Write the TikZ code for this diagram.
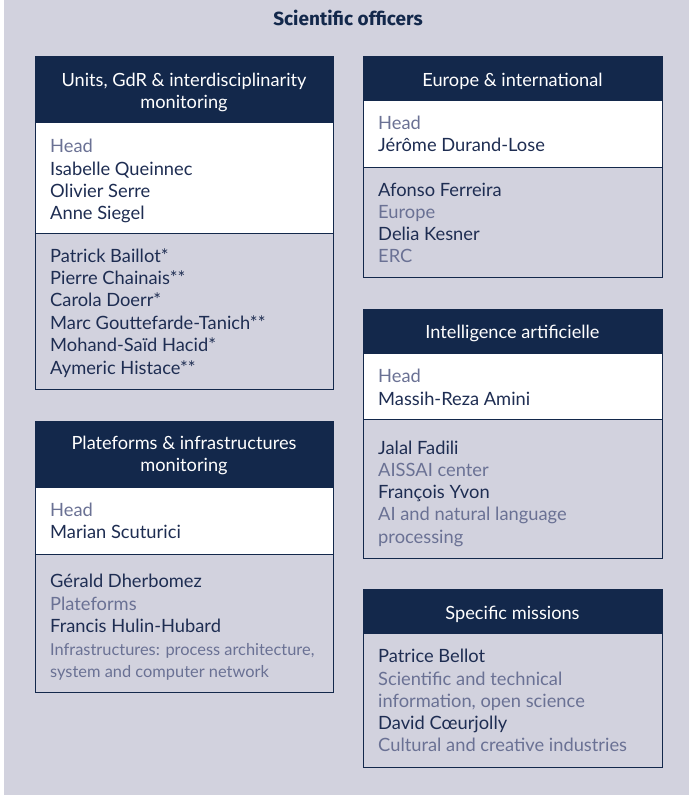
\documentclass[tikz,border=0pt]{standalone}
\usepackage{fontspec}
\setmainfont{Lato}
\newfontfamily\titlefont{Fira Sans}
\definecolor{panel}{HTML}{D2D2DE}
\definecolor{navy}{HTML}{13284B}
\definecolor{namec}{HTML}{1E2D52}
\definecolor{rolec}{HTML}{6A7194}
\begin{document}
\begin{tikzpicture}[x=1pt,y=-1pt,
  sec/.style={rectangle, draw=navy, line width=1.4pt, inner sep=0pt, anchor=north west},
  hdr/.style={sec, fill=navy},
  wsec/.style={sec, fill=white},
  gsec/.style={sec, fill=panel},
  txt/.style={inner sep=0pt, anchor=base west, font=\fontsize{18.3}{22}\selectfont},
  nm/.style={txt, text=namec},
  rl/.style={txt, text=rolec},
  rlsmall/.style={rl, font=\fontsize{16.4}{20}\selectfont},
  ht/.style={inner sep=0pt, anchor=base, font=\fontsize{18.2}{22}\selectfont, text=white},
]
\useasboundingbox (0,0) rectangle (689,795);
\fill[white] (0,0) rectangle (689,795);
\fill[panel] (4,0) rectangle (689,795);

\node[font=\titlefont\bfseries\fontsize{19}{22}\selectfont, text=navy, anchor=base, inner sep=0pt] (title) at (348,25.5) {Scientific officers};

% ---- Box 1: Units
\node[hdr, minimum width=298pt, minimum height=66pt] (uh) at (35,56) {};
\node[wsec, minimum width=298pt, minimum height=111pt] (uw) at (35,122) {};
\node[gsec, minimum width=298pt, minimum height=156pt] (ug) at (35,233) {};
\node[ht] (uh1) at (184,86) {Units, GdR \& interdisciplinarity};
\node[ht] (uh2) at (184,108) {monitoring};
\node[rl] (u1) at (50,152.5) {Head};
\node[nm] (u2) at (50,175) {Isabelle Queinnec};
\node[nm] (u3) at (50,197.3) {Olivier Serre};
\node[nm] (u4) at (50,219.5) {Anne Siegel};
\node[nm] (u5) at (50,262) {Patrick Baillot*};
\node[nm] (u6) at (50,284.4) {Pierre Chainais**};
\node[nm] (u7) at (50,306.8) {Carola Doerr*};
\node[nm] (u8) at (50,329.2) {Marc Gouttefarde-Tanich**};
\node[nm] (u9) at (50,351.6) {Mohand-Saïd Hacid*};
\node[nm] (u10) at (50,374) {Aymeric Histace**};

% ---- Box 2: Plateforms
\node[hdr, minimum width=298pt, minimum height=66pt] (ph) at (35,421) {};
\node[wsec, minimum width=298pt, minimum height=67pt] (pw) at (35,487) {};
\node[gsec, minimum width=298pt, minimum height=138pt] (pg) at (35,554) {};
\node[ht] (ph1) at (184,449) {Plateforms \& infrastructures};
\node[ht] (ph2) at (184,471) {monitoring};
\node[rl] (p1) at (50,516.5) {Head};
\node[nm] (p2) at (50,538.7) {Marian Scuturici};
\node[nm] (p3) at (50,587.5) {Gérald Dherbomez};
\node[rl] (p4) at (50,610) {Plateforms};
\node[nm] (p5) at (50,632.5) {Francis Hulin-Hubard};
\node[rlsmall] (p6) at (50,655) {Infrastructures: process architecture,};
\node[rlsmall] (p7) at (50,677.5) {system and computer network};

% ---- Box 3: Europe
\node[hdr, minimum width=299pt, minimum height=44pt] (eh) at (363,56) {};
\node[wsec, minimum width=299pt, minimum height=67pt] (ew) at (363,100) {};
\node[gsec, minimum width=299pt, minimum height=110pt] (eg) at (363,167) {};
\node[ht] (eh1) at (512.5,86) {Europe \& international};
\node[rl] (e1) at (378,129.5) {Head};
\node[nm] (e2) at (378,151.7) {Jérôme Durand-Lose};
\node[nm] (e3) at (378,196) {Afonso Ferreira};
\node[rl] (e4) at (378,218.5) {Europe};
\node[nm] (e5) at (378,240.7) {Delia Kesner};
\node[rl] (e6) at (378,262.7) {ERC};

% ---- Box 4: IA
\node[hdr, minimum width=299pt, minimum height=44pt] (ah) at (363,309) {};
\node[wsec, minimum width=299pt, minimum height=66pt] (aw) at (363,353) {};
\node[gsec, minimum width=299pt, minimum height=139pt] (ag) at (363,419) {};
\node[ht] (ah1) at (512.5,338) {Intelligence artificielle};
\node[rl] (a1) at (378,382.7) {Head};
\node[nm] (a2) at (378,405) {Massih-Reza Amini};
\node[nm] (a3) at (378,454) {Jalal Fadili};
\node[rl] (a4) at (378,476.5) {AISSAI center};
\node[nm] (a5) at (378,498.7) {François Yvon};
\node[rl] (a6) at (378,520.9) {AI and natural language};
\node[rl] (a7) at (378,543) {processing};

% ---- Box 5: Specific missions
\node[hdr, minimum width=299pt, minimum height=44pt] (sh) at (363,589) {};
\node[gsec, minimum width=299pt, minimum height=134pt] (sg) at (363,633) {};
\node[ht] (sh1) at (512.5,619) {Specific missions};
\node[nm] (s1) at (378,662.7) {Patrice Bellot};
\node[rl] (s2) at (378,685) {Scientific and technical};
\node[rl] (s3) at (378,707.2) {information, open science};
\node[nm] (s4) at (378,729.5) {David Cœurjolly};
\node[rl] (s5) at (378,751.7) {Cultural and creative industries};
\end{tikzpicture}
\end{document}
